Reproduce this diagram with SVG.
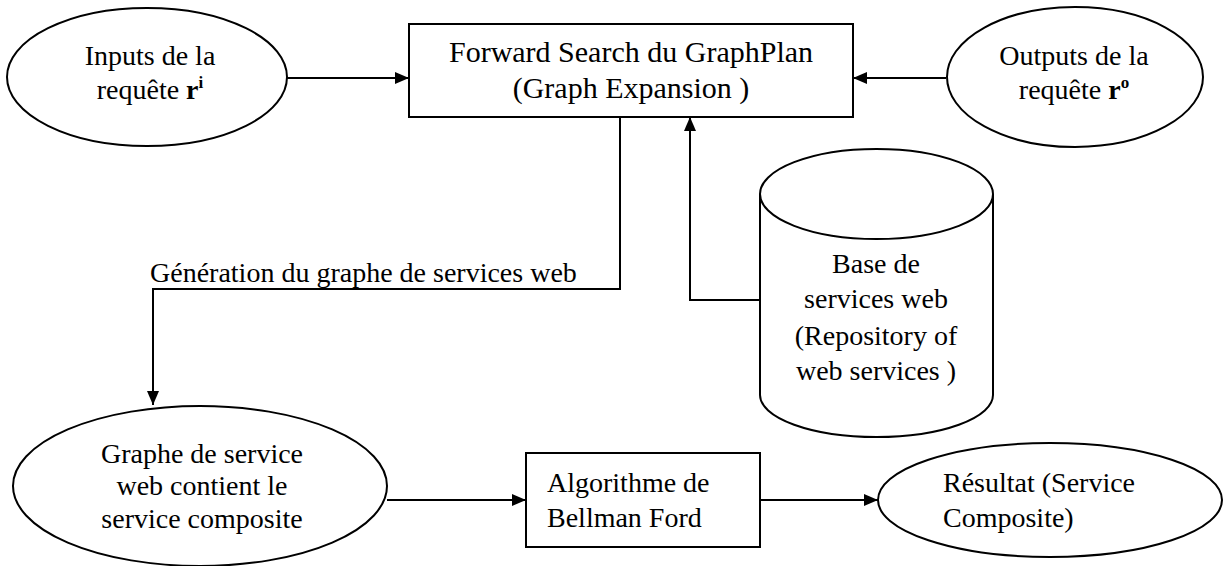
<svg xmlns="http://www.w3.org/2000/svg" width="1224" height="566" viewBox="0 0 1224 566">
  <style>
    .shape { fill: #fff; stroke: #000; stroke-width: 2; }
    .line { fill: none; stroke: #000; stroke-width: 2; }
    text { font-family: "Liberation Serif", "Times New Roman", serif; font-size: 28px; fill: #000; }
    .mid { text-anchor: middle; }
    .big { font-size: 30px; }
    .b { font-weight: bold; }
    .sup { font-size: 17px; font-weight: bold; }
  </style>
  <defs>
    <marker id="arrow" markerWidth="14" markerHeight="12" refX="14" refY="6" orient="auto" markerUnits="userSpaceOnUse">
      <path d="M0,0 L14,6 L0,12 Z" fill="#000"/>
    </marker>
  </defs>

  <!-- connectors -->
  <g id="connectors">
    <line class="line" x1="287" y1="78" x2="409" y2="78" marker-end="url(#arrow)"/>
    <line class="line" x1="946" y1="78" x2="853" y2="78" marker-end="url(#arrow)"/>
    <polyline class="line" points="620,117 620,289 153,289 153,405" marker-end="url(#arrow)"/>
    <polyline class="line" points="760,300 690,300 690,117" marker-end="url(#arrow)"/>
    <line class="line" x1="387" y1="500" x2="526" y2="500" marker-end="url(#arrow)"/>
    <line class="line" x1="760" y1="500" x2="878" y2="500" marker-end="url(#arrow)"/>
    <text x="150" y="282">Génération du graphe de services web</text>
  </g>

  <g id="inputs">
    <ellipse class="shape" cx="147" cy="77" rx="140" ry="69"/>
    <text class="mid" x="150" y="65">Inputs de la</text>
    <text class="mid" x="150" y="99">requête <tspan class="b">r</tspan><tspan class="sup" dy="-11">i</tspan></text>
  </g>

  <g id="forward-search">
    <rect class="shape" x="409" y="24" width="444" height="93"/>
    <text class="mid big" x="631" y="62">Forward Search du GraphPlan</text>
    <text class="mid big" x="631" y="98">(Graph Expansion )</text>
  </g>

  <g id="outputs">
    <ellipse class="shape" cx="1075" cy="77" rx="128" ry="70"/>
    <text class="mid" x="1074" y="65">Outputs de la</text>
    <text class="mid" x="1074" y="99">requête <tspan class="b">r</tspan><tspan class="sup" dy="-11">o</tspan></text>
  </g>

  <g id="repository">
    <path class="shape" d="M760,194 L760,395 A116.5,42 0 0 0 993,395 L993,194"/>
    <ellipse class="shape" cx="876.5" cy="194" rx="116.5" ry="45"/>
    <text class="mid" x="876" y="273">Base de</text>
    <text class="mid" x="876" y="308">services web</text>
    <text class="mid" x="876" y="345">(Repository of</text>
    <text class="mid" x="876" y="380">web services  )</text>
  </g>

  <g id="service-graph">
    <ellipse class="shape" cx="200" cy="486" rx="187" ry="80"/>
    <text class="mid" x="202" y="463">Graphe de service</text>
    <text class="mid" x="202" y="495">web contient le</text>
    <text class="mid" x="202" y="528">service composite</text>
  </g>

  <g id="bellman-ford">
    <rect class="shape" x="526" y="453" width="234" height="94"/>
    <text x="547" y="492">Algorithme de</text>
    <text x="547" y="527">Bellman Ford</text>
  </g>

  <g id="result">
    <ellipse class="shape" cx="1050" cy="500" rx="172" ry="57"/>
    <text x="943" y="492">Résultat (Service</text>
    <text x="943" y="527">Composite)</text>
  </g>
</svg>
